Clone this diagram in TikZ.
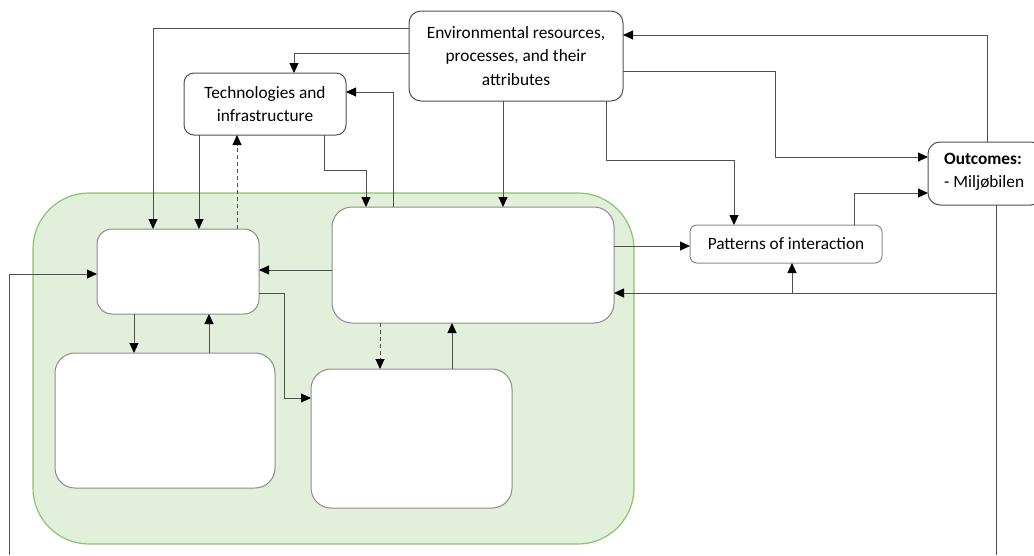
\documentclass[tikz,border=0pt]{standalone}
\usepackage{fontspec}
\setmainfont{Carlito}
\usetikzlibrary{arrows.meta}
\definecolor{linegray}{HTML}{505050}
\definecolor{boxgray}{HTML}{8C8C8C}
\definecolor{zonefill}{HTML}{E2EFDA}
\definecolor{zoneline}{HTML}{8DC26F}
\begin{document}
\begin{tikzpicture}[x=1pt,y=-1pt,
  conn/.style={draw=linegray,line width=0.9pt},
  arr/.style={conn,-{Triangle[length=10pt,width=9pt,color=black]}},
  dash arr/.style={arr,dash pattern=on 4pt off 3pt},
  labelbox/.style={draw=linegray,line width=1pt,fill=white,anchor=north west,
    inner sep=0pt,outer sep=0pt,align=center,font=\fontsize{17.3}{23.5}\selectfont},
  emptybox/.style={draw=boxgray,line width=1pt,fill=white,anchor=north west,
    inner sep=0pt,outer sep=0pt,rounded corners=20pt}]
\useasboundingbox (0,0) rectangle (1034,555);

% green zone holding the inner boxes
\draw[draw=zoneline,fill=zonefill,line width=1.2pt,rounded corners=56pt]
  (33,193) rectangle (634,544);

% boxes with labels
\node[labelbox,rounded corners=12pt,minimum width=214pt,minimum height=90pt]
  (env) at (409,11) {Environmental resources,\\processes, and their\\attributes};
\node[labelbox,rounded corners=10pt,minimum width=162pt,minimum height=62pt]
  (tech) at (184,73) {Technologies and\\infrastructure};
\node[labelbox,rounded corners=7pt,minimum width=192pt,minimum height=38pt,draw=boxgray]
  (pat) at (690,225) {Patterns of interaction};
\node[labelbox,rounded corners=12pt,minimum width=115pt,minimum height=63pt]
  (out) at (928,142) {};
\node[anchor=west,align=left,inner sep=0pt,font=\fontsize{17.3}{23.5}\selectfont]
  (outtext) at (944,172) {\textbf{Outcomes:}\\- Miljøbilen};

% empty boxes inside the green zone
\node[emptybox,rounded corners=15pt,minimum width=162pt,minimum height=85pt] (A) at (97,229) {};
\node[emptybox,minimum width=282pt,minimum height=116pt] (B) at (332,207) {};
\node[emptybox,minimum width=220pt,minimum height=135pt] (C) at (55,353) {};
\node[emptybox,minimum width=201pt,minimum height=139pt] (D) at (311,369) {};

% free ends running off the bottom edge
\coordinate (lb) at (9,555);
\coordinate (rb) at (996,555);

% connectors
\draw[arr] (env.west |- 0,28) -| (A.north -| 153,0);
\draw[arr] (env.west |- 0,53) -| (tech.north -| 294,0);
\draw[arr] (tech.south -| 199,0) -- (A.north -| 199,0);
\draw[dash arr] (A.north -| 237,0) -- (tech.south -| 237,0);
\draw[arr] (tech.south -| 324,0) -- ++(0,35) -| (B.north -| 366,0);
\draw[arr] (B.north -| 393,0) |- (tech.east |- 0,92);
\draw[arr] (env.south -| 503,0) -- (B.north -| 503,0);
\draw[arr] (env.south -| 606,0) -- (606,160) -| (pat.north -| 734,0);
\draw[arr] (env.east |- 0,71) -| (775,157) -- (out.west |- 0,157);
\draw[arr] (out.north -| 987,0) |- (env.east |- 0,35);
\draw[arr] (pat.north -| 854,0) |- (out.west |- 0,193);
\draw[arr] (B.east |- 0,246) -- (pat.west |- 0,246);
\draw[conn] (out.south -| 996,0) -- (rb);
\draw[arr] (996,293) -- (B.east |- 0,293);
\draw[arr] (792,293) -- (pat.south -| 792,0);
\draw[arr] (lb) |- (A.west |- 0,274);
\draw[arr] (B.west |- 0,270) -- (A.east |- 0,270);
\draw[arr] (A.east |- 0,293) -| (284,398) -- (D.west |- 0,398);
\draw[arr] (A.south -| 134,0) -- (C.north -| 134,0);
\draw[arr] (C.north -| 209,0) -- (A.south -| 209,0);
\draw[dash arr] (B.south -| 380,0) -- (D.north -| 380,0);
\draw[arr] (D.north -| 452,0) -- (B.south -| 452,0);
\end{tikzpicture}
\end{document}
